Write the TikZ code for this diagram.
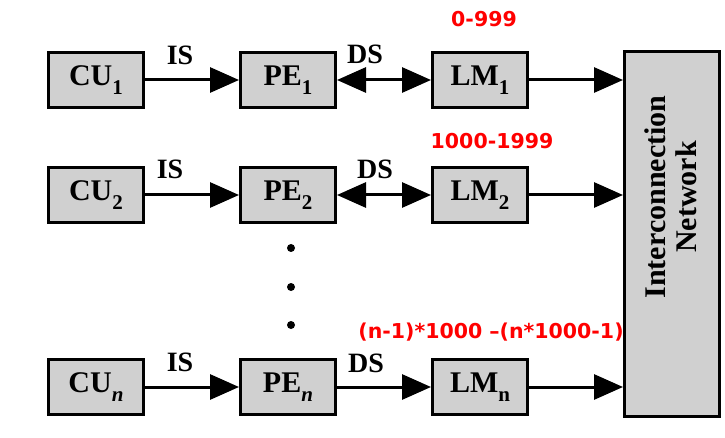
\documentclass[tikz,border=0pt]{standalone}
\usepackage{fontspec}
\setmainfont{Liberation Serif}
\newfontfamily\redfont{DejaVu Sans}
\usetikzlibrary{arrows.meta}
\definecolor{boxgray}{RGB}{208,208,208}
\definecolor{addrred}{RGB}{255,0,0}
\newcommand{\lowsub}[1]{\raisebox{-0.28em}{\fontsize{21}{21}\selectfont #1}}
\begin{document}
\begin{tikzpicture}[x=1pt,y=-1pt,
  unit/.style={draw=black, line width=3pt, fill=boxgray, minimum width=95pt,
    minimum height=55pt, inner sep=0pt, font=\fontsize{30}{32}\selectfont\bfseries},
  netbox/.style={draw=black, line width=3pt, fill=boxgray, minimum width=95pt,
    minimum height=365pt, inner sep=0pt},
  conn/.style={line width=3pt, -{Triangle[length=29pt,width=25pt]}},
  biconn/.style={line width=3pt, {Triangle[length=29pt,width=25pt]}-{Triangle[length=29pt,width=25pt]}},
  siglabel/.style={inner sep=0pt, font=\fontsize{28}{30}\selectfont\bfseries},
  addrlabel/.style={inner sep=0pt, text=addrred, font=\redfont\fontsize{20.5}{22}\selectfont\bfseries},
  vdot/.style={circle, fill=black, inner sep=0pt, minimum size=8pt}]
\useasboundingbox (0,0) rectangle (725,438);
% units
\node[unit] (CU1) at (96,80) {CU\lowsub{1}};
\node[unit] (PE1) at (288,80) {PE\lowsub{1}};
\node[unit] (LM1) at (480,80) {LM\lowsub{1}};
\node[unit] (CU2) at (96,195) {CU\lowsub{2}};
\node[unit] (PE2) at (288,195) {PE\lowsub{2}};
\node[unit] (LM2) at (480,195) {LM\lowsub{2}};
\node[unit] (CUn) at (96,387) {CU\lowsub{\textit{n}}};
\node[unit] (PEn) at (288,387) {PE\lowsub{\textit{n}}};
\node[unit] (LMn) at (480,387) {LM\lowsub{n}};
\node[netbox] (net) at (672,234) {};
\node[rotate=90, inner sep=0pt, align=center, font=\fontsize{30}{31}\selectfont\bfseries]
  (netlabel) at (671,197) {Interconnection\\Network};
% connectors
\draw[conn] (CU1) -- (PE1);
\draw[biconn] (PE1) -- (LM1);
\draw[conn] (LM1.east) -- (LM1.east -| net.west);
\draw[conn] (CU2) -- (PE2);
\draw[biconn] (PE2) -- (LM2);
\draw[conn] (LM2.east) -- (LM2.east -| net.west);
\draw[conn] (CUn) -- (PEn);
\draw[conn] (PEn) -- (LMn);
\draw[conn] (LMn.east) -- (LMn.east -| net.west);
% labels
\node[siglabel] (is1) at (180,55) {IS};
\node[siglabel] (is2) at (170,169) {IS};
\node[siglabel] (isn) at (180,362) {IS};
\node[siglabel] (ds1) at (365,54) {DS};
\node[siglabel] (ds2) at (375,169) {DS};
\node[siglabel] (dsn) at (366,363) {DS};
\node[addrlabel] (a1) at (484,19) {0-999};
\node[addrlabel] (a2) at (492,141) {1000-1999};
\node[addrlabel] (an) at (491,332) {(n-1)*1000 –(n*1000-1)};
% dots
\node[vdot] (d1) at (291,248) {};
\node[vdot] (d2) at (291,287) {};
\node[vdot] (d3) at (291,325) {};
\end{tikzpicture}
\end{document}
